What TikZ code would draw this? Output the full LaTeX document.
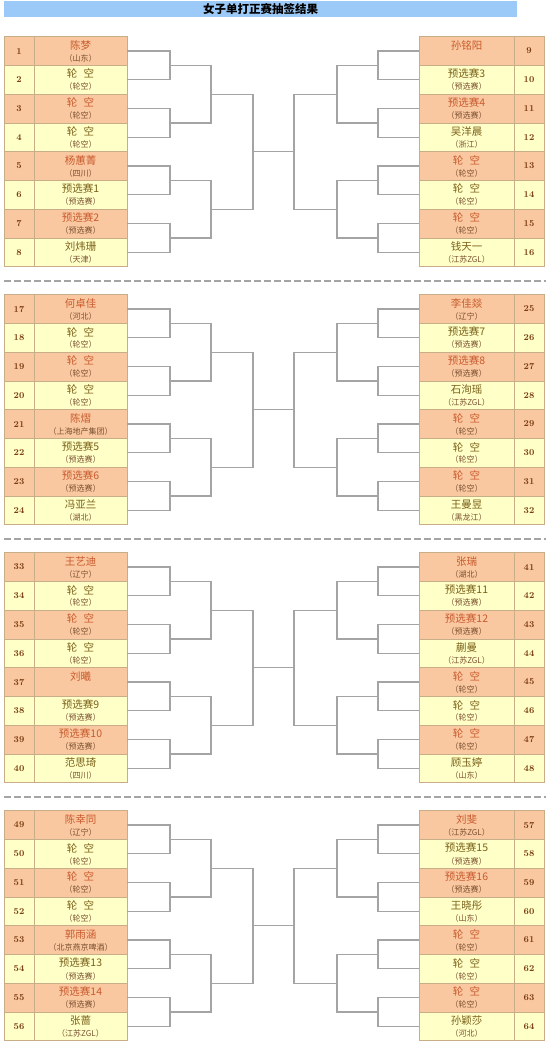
\documentclass[tikz,border=0pt]{standalone}
\usepackage{fontspec}
\newfontfamily\cjk{Noto Sans CJK SC}
\usetikzlibrary{positioning,calc}

\definecolor{rowA}{HTML}{FAC8A0}
\definecolor{rowB}{HTML}{FFFFC8}
\definecolor{nameA}{HTML}{C85A2E}
\definecolor{nameB}{HTML}{7A6018}
\definecolor{subclr}{HTML}{7A5030}
\definecolor{numclr}{HTML}{7A3C10}
\definecolor{cellline}{HTML}{C8AE88}
\definecolor{lineclr}{HTML}{A4A4A4}
\definecolor{titlebg}{HTML}{9CCAF8}

\newcommand\byename{轮\hspace{0.6em}空}

\tikzset{
  cell/.style={draw=cellline, line width=0.6pt, minimum height=28.75pt,
    inner sep=0pt, outer sep=0pt},
  numcell/.style={cell, minimum width=30pt, text=numclr,
    font=\fontsize{9}{9}\selectfont\bfseries},
  nametxt/.style={inner sep=0pt, font=\cjk\fontsize{10.5}{11}\selectfont},
  subtxt/.style={inner sep=0pt, text=subclr, font=\cjk\fontsize{8}{8}\selectfont},
  bracket/.style={draw=lineclr, line width=1.2pt},
  sepline/.style={draw=lineclr, line width=1.2pt, dash pattern=on 7pt off 3pt},
}

\begin{document}
\begin{tikzpicture}[x=1pt,y=-1pt]
\useasboundingbox (0,0) rectangle (550,1046);

\def\rowh{28.75}
\def\secgap{258}
\def\firsty{36.7}

% Title bar
\node[fill=titlebg, minimum width=513pt, minimum height=16pt, inner sep=0pt]
    (title) at (260.5,9.2) {\cjk\bfseries\fontsize{11.5}{12}\selectfont 女子单打正赛抽签结果};

% Section separators
\foreach \s in {0,1,2}
  \draw[sepline] (4,281+\s*\secgap) -- (546,281+\s*\secgap);

% Draw table rows: number / name / team
\foreach \n/\nm/\sb in {
  1/陈梦/（山东）, 2/\byename/（轮空）, 3/\byename/（轮空）, 4/\byename/（轮空）,
  5/杨蕙菁/（四川）, 6/预选赛1/（预选赛）, 7/预选赛2/（预选赛）, 8/刘炜珊/（天津）,
  9/孙铭阳/{}, 10/预选赛3/（预选赛）, 11/预选赛4/（预选赛）, 12/吴洋晨/（浙江）,
  13/\byename/（轮空）, 14/\byename/（轮空）, 15/\byename/（轮空）, 16/钱天一/（江苏ZGL）,
  17/何卓佳/（河北）, 18/\byename/（轮空）, 19/\byename/（轮空）, 20/\byename/（轮空）,
  21/陈熠/（上海地产集团）, 22/预选赛5/（预选赛）, 23/预选赛6/（预选赛）, 24/冯亚兰/（湖北）,
  25/李佳燚/（辽宁）, 26/预选赛7/（预选赛）, 27/预选赛8/（预选赛）, 28/石洵瑶/（江苏ZGL）,
  29/\byename/（轮空）, 30/\byename/（轮空）, 31/\byename/（轮空）, 32/王曼昱/（黑龙江）,
  33/王艺迪/（辽宁）, 34/\byename/（轮空）, 35/\byename/（轮空）, 36/\byename/（轮空）,
  37/刘曦/{}, 38/预选赛9/（预选赛）, 39/预选赛10/（预选赛）, 40/范思琦/（四川）,
  41/张瑞/（湖北）, 42/预选赛11/（预选赛）, 43/预选赛12/（预选赛）, 44/蒯曼/（江苏ZGL）,
  45/\byename/（轮空）, 46/\byename/（轮空）, 47/\byename/（轮空）, 48/顾玉婷/（山东）,
  49/陈幸同/（辽宁）, 50/\byename/（轮空）, 51/\byename/（轮空）, 52/\byename/（轮空）,
  53/郭雨涵/（北京燕京啤酒）, 54/预选赛13/（预选赛）, 55/预选赛14/（预选赛）, 56/张蔷/（江苏ZGL）,
  57/刘斐/（江苏ZGL）, 58/预选赛15/（预选赛）, 59/预选赛16/（预选赛）, 60/王晓彤/（山东）,
  61/\byename/（轮空）, 62/\byename/（轮空）, 63/\byename/（轮空）, 64/孙颖莎/（河北）}{
  \pgfmathtruncatemacro\s{int((\n-1)/16)}
  \pgfmathtruncatemacro\k{mod(\n-1,16)}
  \pgfmathtruncatemacro\i{mod(\k,8)}
  \pgfmathsetmacro\yc{\firsty+\s*\secgap+(\i+0.5)*\rowh}
  \ifodd\i \def\fillc{rowB}\def\txtc{nameB}\else \def\fillc{rowA}\def\txtc{nameA}\fi
  \ifnum\k<8
    \node[numcell, fill=\fillc] (n\n) at (19,\yc) {\n};
    \node[cell, fill=\fillc, minimum width=93pt] (c\n) at (80.5,\yc) {};
  \else
    \node[cell, fill=\fillc, minimum width=95pt] (c\n) at (466.5,\yc) {};
    \node[numcell, fill=\fillc] (n\n) at (529,\yc) {\n};
  \fi
  \node[nametxt, text=\txtc] (t\n) at ([yshift=-8.5pt]c\n.north) {\nm};
  \node[subtxt] (s\n) at ([yshift=-21.5pt]c\n.north) {\sb};
}

% Brackets: rounds joining toward the centre line
\foreach \s in {0,...,3}{
  \pgfmathsetmacro\secy{\firsty+\s*\secgap}
  \foreach \side/\xa/\xb/\xc/\shiftn/\anc in {L/170/211/253/0/east, R/378/337/294/8/west}{
    \foreach \p in {0,...,3}{
      \pgfmathtruncatemacro\na{16*\s+\shiftn+2*\p+1}
      \pgfmathtruncatemacro\nb{\na+1}
      \coordinate (a\side\s\p) at (\xa,\secy+2*\rowh*\p+\rowh);
      \draw[bracket] (c\na.\anc) -| (a\side\s\p) |- (c\nb.\anc);
    }
    \foreach \q in {0,1}{
      \pgfmathtruncatemacro\pa{2*\q}
      \pgfmathtruncatemacro\pb{2*\q+1}
      \coordinate (b\side\s\q) at (\xb,\secy+4*\rowh*\q+2*\rowh);
      \draw[bracket] (a\side\s\pa) -| (b\side\s\q) |- (a\side\s\pb);
    }
    \coordinate (z\side\s) at (\xc,\secy+4*\rowh);
    \draw[bracket] (b\side\s0) -| (z\side\s) |- (b\side\s1);
  }
  \draw[bracket] (zL\s) -- (zR\s);
}

\end{tikzpicture}
\end{document}
